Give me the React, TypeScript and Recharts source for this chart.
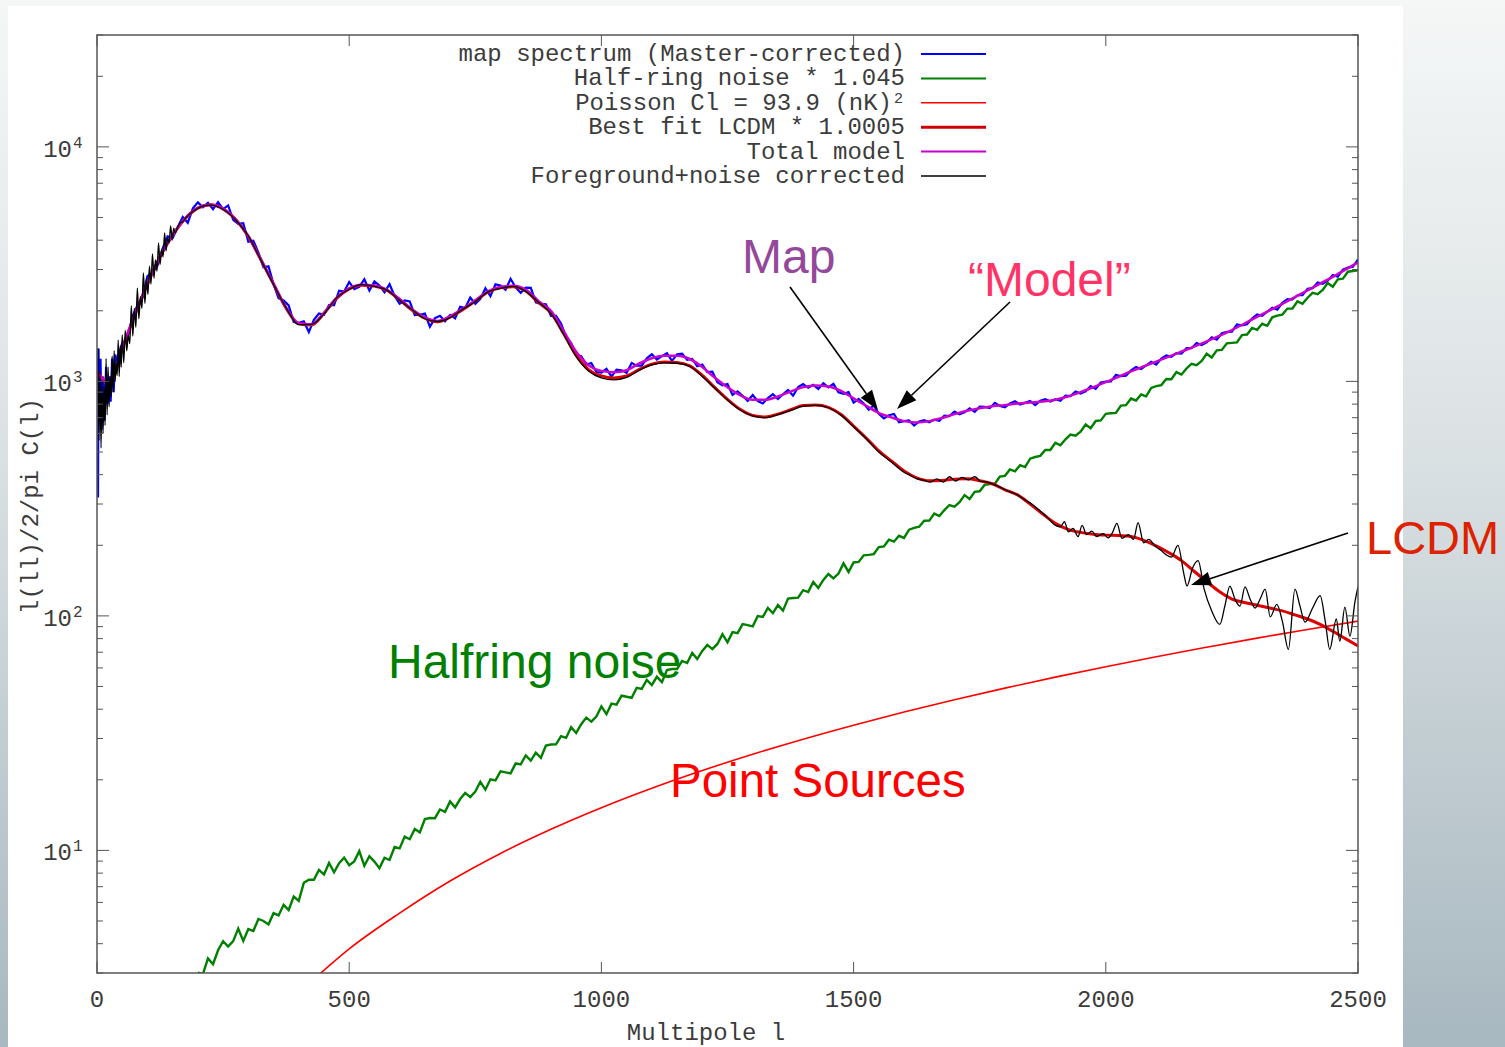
import { LineChart, Line, XAxis, YAxis } from "recharts";

// page + plot geometry (px)
const W = 1505;
const H = 1047;
const PL = 97;
const PR = 1358;
const PT = 35;
const PB = 973;

const MONO = "'Liberation Mono', 'DejaVu Sans Mono', monospace";
const SANS = "'Liberation Sans', Arial, sans-serif";
const INK = "#3c3c3c";

const L_TICKS = [0, 500, 1000, 1500, 2000, 2500];
const C_TICKS = [
    3, 4, 5, 6, 7, 8, 9, 10, 20, 30, 40, 50, 60, 70, 80, 90, 100, 200, 300, 400, 500, 600, 700, 800, 900,
    1000, 2000, 3000, 4000, 5000, 6000, 7000, 8000, 9000, 10000, 20000, 30000,
];

// map spectrum (Master-corrected), lowest multipoles
const MAP_LOW: [number, number][] = [
    [2, 320], [3, 1380], [5, 700], [7, 1250], [9, 620], [12, 1050], [15, 680], [18, 1150],
    [21, 800], [24, 1050], [27, 820], [30, 1250], [33, 900], [36, 1300],
];
// map spectrum, l = 40, 50, ... 2500
const MAP_V = [
    1213, 1460, 1501, 1883, 2105, 2260, 2813, 2914, 3117, 3681, 4152, 4091, 4545, 5021, 4746, 5470,
    5798, 5522, 5774, 5426, 5816, 5429, 5628, 4889, 4693, 4729, 3943, 3975, 3536, 3068, 3095, 2595,
    2261, 2213, 2108, 1792, 1778, 1804, 1623, 1830, 1947, 1923, 2116, 2116, 2437, 2415, 2654, 2474,
    2529, 2724, 2442, 2667, 2565, 2396, 2597, 2315, 2145, 2213, 2194, 1919, 1924, 1946, 1712, 1861,
    1904, 1804, 1921, 1857, 2082, 2056, 2279, 2143, 2248, 2497, 2309, 2594, 2561, 2459, 2737, 2515,
    2386, 2513, 2504, 2172, 2141, 2134,
    1904, 1905, 1767, 1549, 1458, 1294, 1279, 1181, 1198, 1096, 1091, 1131, 1048, 1122, 1115, 1089,
    1199, 1167, 1168, 1254, 1305, 1240, 1282, 1318, 1224, 1306, 1313, 1236, 1246, 1161, 1180, 1095,
    1099, 991, 962, 974, 876, 907, 869, 825, 875, 824, 805, 849, 882, 841, 881, 919, 869, 945,
    975, 939, 967, 929, 982, 943, 976, 898, 885, 900, 812, 841, 804, 758, 790, 727, 695, 717,
    726, 669, 677, 681, 648, 675, 684, 670, 687, 679, 715, 711, 743, 724, 738, 768, 741, 780,
    778, 769, 810, 785, 776, 805, 823, 796, 810, 825, 792, 826, 839, 820, 839, 827, 869, 865,
    906, 887, 908, 954, 930, 988, 998, 999, 1066, 1053, 1058, 1114, 1153, 1130, 1170, 1211, 1179, 1251,
    1289, 1274, 1320, 1313, 1385, 1385, 1457, 1428, 1466, 1543, 1507, 1605, 1626, 1631, 1749, 1734,
    1752, 1852, 1930, 1903, 1981, 2063, 2024, 2161, 2241, 2235, 2330, 2334, 2483, 2499, 2643, 2609,
    2690, 2845, 2798, 2996, 3055, 3082, 3317,
];

// half-ring noise * 1.045, l = 200, 210, ... 2500
const NOISE_V = [
    3.01, 2.97, 3.46, 3.27, 3.75, 4.1, 3.89, 4.1, 4.64, 4.11, 4.62, 4.53, 5.1, 5.0, 4.83, 5.4, 5.28,
    5.86, 5.57, 6.36, 6.09, 7.27, 7.5, 7.5, 8.26, 7.89, 8.84, 8.06, 8.81, 9.31, 8.65, 8.98, 9.92,
    8.6, 9.44, 8.96, 8.4, 9.3, 9.1, 10.34, 10.2, 11.45, 11.16, 12.34, 11.94, 13.6, 13.74, 13.72,
    14.94, 14.6, 16.17, 15.26, 16.56, 17.58, 16.88, 17.82, 19.61, 18.15, 20.09, 19.89, 21.74, 21.5,
    21.31, 23.48, 23.27, 25.41, 24.15, 26.11, 24.82, 28.02, 28.28, 28.32, 30.69, 30.18, 33.5, 31.68,
    34.54, 36.82, 35.41, 37.22, 41.13, 38.1, 42.23, 41.85, 45.66, 45.2, 44.74, 49.34, 48.81, 53.34,
    50.73, 54.98, 52.17, 58.81, 59.39, 59.39, 64.27, 62.92, 69.51, 65.47, 70.9, 75.19, 72.17, 75.93,
    83.63, 77.14, 85.27, 84.38, 92.25, 91.3, 90.24, 99.91, 99, 108.15, 102.82, 111.18, 105.28,
    118.45, 119.18, 119.56, 128.75, 126.42, 139.65, 131.52, 142.41, 150.8, 144.53, 151.47, 167.48,
    153.9, 169, 169.9, 181.2, 182, 183.5, 196.5, 197.8, 211.2, 207.2, 219.6, 215, 233.1, 237.4,
    240.1, 254.5, 254.9, 273, 266.4, 282.7, 297, 292.6, 305.2, 327.4, 315.3, 338, 339.9, 362.5,
    365, 366, 393, 395.6, 421.3, 413.4, 439.2, 430.9, 468.3, 475.8, 481.2, 510, 509.8, 547, 533.9,
    566.4, 592.9, 586.3, 610.3, 654.8, 631.5, 678, 681.7, 727, 731, 734, 788, 792, 845, 829, 879,
    863, 938, 954, 964, 1023, 1022, 1096, 1070, 1135, 1189, 1173, 1223, 1312, 1264, 1357, 1362,
    1453, 1460, 1467, 1576, 1584, 1690, 1660, 1760, 1725, 1875, 1907, 1927, 2044, 2044, 2195, 2142,
    2274, 2383, 2353, 2452, 2628, 2532, 2725, 2744, 2936, 2957, 2977,
];

// Poisson Cl = 93.9 (nK)^2
const POISSON: [number, number][] = [
    [440, 2.95], [500, 3.8], [600, 5.4], [700, 7.4], [800, 9.7], [900, 12.3], [1000, 15.2],
    [1100, 18.4], [1200, 21.9], [1300, 25.7], [1400, 29.8], [1500, 34.2], [1600, 38.9], [1700, 43.9],
    [1800, 49.2], [1900, 54.8], [2000, 60.7], [2100, 67], [2200, 73.5], [2300, 80.4], [2400, 87.5],
    [2500, 95],
];

// best fit LCDM * 1.0005, l = 0, 25, ... 2500
const LCDM_V = [
    1100, 980, 1380, 1920, 2600, 3400, 4200, 4950, 5480, 5660, 5440, 4900, 4150, 3300, 2600, 2050,
    1760, 1740, 1950, 2260, 2480, 2570, 2550, 2440, 2230, 2010, 1860, 1795, 1880, 2020, 2200, 2400,
    2506, 2530, 2430, 2170, 1960, 1600, 1290, 1120, 1055, 1035, 1054, 1125, 1185, 1210, 1205, 1165,
    1060, 940, 838, 760, 715, 705, 725, 757, 790, 793, 775, 722, 645, 573, 505, 458, 415, 388, 377,
    378, 383, 384, 377, 366, 345, 328, 300, 272, 248, 234, 227, 223, 221, 220, 218, 210, 199, 186,
    172, 155, 140, 127, 118, 114, 111, 108, 105, 101, 97, 92, 86, 80, 74.5,
];

// total model, l = 0, 25, ... 2500
const TOTAL_V = [
    1100, 990, 1390, 1930, 2610, 3410, 4210, 4960, 5490, 5670, 5450, 4910, 4160, 3310, 2610, 2060,
    1770, 1750, 1960, 2270, 2490, 2580, 2565, 2455, 2245, 2025, 1875, 1810, 1900, 2040, 2220, 2420,
    2530, 2555, 2465, 2205, 2000, 1640, 1337, 1170, 1109, 1094, 1116, 1192, 1255, 1285, 1285, 1246,
    1152, 1036, 944, 874, 835, 834, 862, 905, 945, 960, 951, 910, 846, 787, 733, 702, 677, 668, 677,
    698, 725, 749, 768, 784, 792, 805, 813, 820, 835, 862, 900, 944, 993, 1046, 1103, 1158, 1215,
    1275, 1340, 1406, 1481, 1563, 1656, 1765, 1883, 2007, 2140, 2288, 2446, 2614, 2789, 2996, 3220,
];

// foreground+noise corrected
const CLEAN: [number, number][] = [
    [2, 1380], [4, 560], [6, 1100], [8, 520], [10, 1000], [12, 600], [14, 950], [16, 650], [18, 1250],
    [20, 720], [22, 1150], [24, 780], [26, 1050], [28, 860], [30, 1280], [32, 900], [34, 1350],
    [36, 1000], [38, 1200], [40, 1060], [42, 1500], [44, 1050], [46, 1420], [48, 1150], [50, 1580],
    [53, 1200], [56, 1650], [59, 1350], [62, 1580], [65, 1450], [68, 2100], [71, 1560], [74, 2050],
    [77, 1700], [80, 2500], [83, 1850], [86, 2300], [89, 2050], [92, 2900], [95, 2150], [98, 2750],
    [101, 2350], [104, 3100], [107, 2600], [110, 3500], [113, 2750], [116, 3300], [119, 2950],
    [122, 3900], [125, 3150], [128, 3650], [131, 3400], [134, 4300], [137, 3600], [140, 4100],
    [143, 3900], [146, 4600], [149, 4000], [152, 4500], [155, 4300], [160, 4550], [165, 4750],
    [170, 4800], [175, 4950], [180, 5080], [190, 5300], [200, 5470], [210, 5590], [225, 5650],
    [250, 5420], [275, 4880], [300, 4170], [325, 3290], [350, 2590], [375, 2060], [400, 1745],
    [425, 1750], [450, 1940], [475, 2270], [500, 2470], [525, 2585], [550, 2540], [575, 2450],
    [600, 2220], [625, 2020], [650, 1850], [675, 1800], [700, 1870], [725, 2030], [750, 2190],
    [775, 2410], [800, 2495], [825, 2540], [850, 2420], [875, 2180], [900, 1950], [925, 1590],
    [950, 1275], [975, 1105], [1000, 1035], [1025, 1015], [1050, 1040], [1075, 1115], [1100, 1175],
    [1125, 1200], [1150, 1195], [1175, 1160], [1200, 1050], [1225, 935], [1250, 832], [1275, 755],
    [1300, 712], [1325, 700], [1350, 722], [1375, 752], [1400, 784], [1425, 790], [1450, 772],
    [1475, 718], [1500, 640], [1525, 570], [1550, 500], [1575, 453], [1600, 410], [1612, 398],
    [1625, 385], [1640, 378], [1652, 372], [1665, 384], [1678, 372], [1690, 392], [1702, 376],
    [1715, 390], [1728, 380], [1740, 392], [1752, 375], [1765, 372], [1780, 362], [1795, 350],
    [1810, 338], [1825, 328], [1840, 312], [1855, 298], [1870, 280], [1885, 262], [1898, 245],
    [1910, 240], [1918, 252], [1926, 228], [1935, 236], [1945, 218], [1953, 243], [1962, 222],
    [1972, 230], [1982, 218], [1995, 224], [2005, 215], [2013, 226], [2022, 248], [2032, 214],
    [2045, 222], [2055, 212], [2064, 250], [2075, 205], [2085, 212], [2098, 198], [2110, 190],
    [2120, 182], [2130, 178], [2143, 200], [2155, 150], [2161, 134], [2172, 160], [2183, 172],
    [2195, 130], [2210, 105], [2226, 92], [2236, 110], [2246, 134], [2256, 118], [2266, 110],
    [2276, 133], [2286, 118], [2296, 108], [2306, 118], [2316, 130], [2326, 99], [2339, 112],
    [2350, 95], [2362, 72], [2375, 130], [2385, 110], [2395, 94], [2410, 108], [2425, 122],
    [2435, 95], [2444, 72], [2457, 97], [2464, 78], [2474, 109], [2484, 82], [2494, 115], [2500, 133],
];

const LEGEND = [
    { label: "map spectrum (Master-corrected)", sup: "", color: "#0000ff", width: 2 },
    { label: "Half-ring noise * 1.045", sup: "", color: "#008000", width: 2 },
    { label: "Poisson Cl = 93.9 (nK)", sup: "2", color: "#ff0000", width: 1.5 },
    { label: "Best fit LCDM * 1.0005", sup: "", color: "#cc0000", width: 3 },
    { label: "Total model", sup: "", color: "#cc00cc", width: 2 },
    { label: "Foreground+noise corrected", sup: "", color: "#000000", width: 1.5 },
];

const fromStep = (start: number, step: number, vals: number[]) =>
    vals.map((v, i) => ({ l: start + i * step, v }));
const fromPairs = (pairs: [number, number][]) => pairs.map(([l, v]) => ({ l, v }));

const mapData = [...fromPairs(MAP_LOW), ...fromStep(40, 10, MAP_V)];
const noiseData = fromStep(200, 10, NOISE_V);
const poissonData = fromPairs(POISSON);
const lcdmData = fromStep(0, 25, LCDM_V);
const totalData = fromStep(0, 25, TOTAL_V);
const cleanData = fromPairs(CLEAN);

function XTick(props: any) {
    const { x, payload } = props;
    return (
        <g>
            <line x1={x} x2={x} y1={PB} y2={PB - 11} stroke="#555" strokeWidth={1} />
            <line x1={x} x2={x} y1={PT} y2={PT + 11} stroke="#555" strokeWidth={1} />
            <text x={x} y={PB + 34} textAnchor="middle" fontFamily={MONO} fontSize={24} fill={INK}>
                {payload.value}
            </text>
        </g>
    );
}

function YTick(props: any) {
    const { y, payload } = props;
    const lg = Math.log10(payload.value);
    const exp = Math.round(lg);
    const major = Math.abs(lg - exp) < 1e-6;
    const len = major ? 12 : 6;
    return (
        <g>
            <line x1={PL} x2={PL + len} y1={y} y2={y} stroke="#555" strokeWidth={1} />
            <line x1={PR} x2={PR - len} y1={y} y2={y} stroke="#555" strokeWidth={1} />
            {major && (
                <text x={72} y={y + 10} textAnchor="end" fontFamily={MONO} fontSize={24} fill={INK}>
                    10
                </text>
            )}
            {major && (
                <text x={73} y={y + 1} fontFamily={MONO} fontSize={16} fill={INK}>
                    {exp}
                </text>
            )}
        </g>
    );
}

function Arrow({ x1, y1, x2, y2 }: { x1: number; y1: number; x2: number; y2: number }) {
    const a = Math.atan2(y2 - y1, x2 - x1);
    const hl = 20;
    const hw = 7;
    const bx = x2 - hl * Math.cos(a);
    const by = y2 - hl * Math.sin(a);
    const px = -Math.sin(a) * hw;
    const py = Math.cos(a) * hw;
    return (
        <g>
            <line x1={x1} y1={y1} x2={bx} y2={by} stroke="#000" strokeWidth={1.6} />
            <polygon points={`${x2},${y2} ${bx + px},${by + py} ${bx - px},${by - py}`} fill="#000" />
        </g>
    );
}

export default function App() {
    return (
        <div
            style={{
                position: "absolute",
                left: 0,
                top: 0,
                width: W,
                height: H,
                overflow: "hidden",
                background: "linear-gradient(to bottom, #f5f7f7 0%, #dde3e5 40%, #a8b8c0 100%)",
            }}
        >
            {/* white slide panel */}
            <div style={{ position: "absolute", left: 8, top: 6, width: 1395, height: H - 6, background: "#fff" }} />

            <div style={{ position: "absolute", left: 0, top: 0 }}>
                <LineChart width={W} height={H} margin={{ top: PT, right: W - PR, bottom: 44, left: 37 }}>
                    <XAxis
                        type="number"
                        dataKey="l"
                        domain={[0, 2500]}
                        ticks={L_TICKS}
                        interval={0}
                        axisLine={false}
                        tickLine={false}
                        tick={<XTick />}
                        height={30}
                        allowDataOverflow
                    />
                    <YAxis
                        type="number"
                        scale="log"
                        domain={[3, 30000]}
                        ticks={C_TICKS}
                        interval={0}
                        axisLine={false}
                        tickLine={false}
                        tick={<YTick />}
                        width={60}
                        allowDataOverflow
                    />
                    <Line data={mapData} dataKey="v" stroke="#0000ff" strokeWidth={2.2} dot={false} activeDot={false} isAnimationActive={false} />
                    <Line data={noiseData} dataKey="v" stroke="#008000" strokeWidth={2.4} dot={false} activeDot={false} isAnimationActive={false} />
                    <Line data={poissonData} dataKey="v" type="monotone" stroke="#ff0000" strokeWidth={1.6} dot={false} activeDot={false} isAnimationActive={false} />
                    <Line data={lcdmData} dataKey="v" type="monotone" stroke="#dd0000" strokeWidth={3} dot={false} activeDot={false} isAnimationActive={false} />
                    <Line data={totalData} dataKey="v" type="monotone" stroke="#cc00cc" strokeWidth={2.5} dot={false} activeDot={false} isAnimationActive={false} />
                    <Line data={cleanData} dataKey="v" type="monotone" stroke="#000000" strokeWidth={1.3} dot={false} activeDot={false} isAnimationActive={false} />
                </LineChart>
            </div>

            {/* frame, legend, labels and annotations */}
            <svg width={W} height={H} style={{ position: "absolute", left: 0, top: 0, pointerEvents: "none" }}>
                <rect x={PL} y={PT} width={PR - PL} height={PB - PT} fill="none" stroke="#555" strokeWidth={1.5} />

                {LEGEND.map((row, i) => {
                    const y = 54 + i * 24.4;
                    return (
                        <g key={row.label}>
                            <text
                                x={row.sup ? 892 : 905}
                                y={y + 7}
                                textAnchor="end"
                                fontFamily={MONO}
                                fontSize={24}
                                fill={INK}
                            >
                                {row.label}
                            </text>
                            {row.sup && (
                                <text x={894} y={y} fontFamily={MONO} fontSize={15} fill={INK}>
                                    {row.sup}
                                </text>
                            )}
                            <line x1={921} x2={986} y1={y} y2={y} stroke={row.color} strokeWidth={row.width} />
                        </g>
                    );
                })}

                <text x={706} y={1040} textAnchor="middle" fontFamily={MONO} fontSize={24} fill={INK}>
                    Multipole l
                </text>
                <text
                    x={0}
                    y={0}
                    transform="translate(38 506) rotate(-90)"
                    textAnchor="middle"
                    fontFamily={MONO}
                    fontSize={24}
                    fill={INK}
                >
                    l(ll)/2/pi C(l)
                </text>

                <text x={742} y={273} fontFamily={SANS} fontSize={48} fill="#93489a">Map</text>
                <text x={968} y={296} fontFamily={SANS} fontSize={48} fill="#ff3366">“Model”</text>
                <text x={1366} y={554} fontFamily={SANS} fontSize={47} fill="#dd2200">LCDM</text>
                <text x={388} y={678} fontFamily={SANS} fontSize={48} fill="#008000">Halfring noise</text>
                <text x={670} y={797} fontFamily={SANS} fontSize={47.5} fill="#ff0000">Point Sources</text>

                <Arrow x1={790} y1={287} x2={878} y2={410} />
                <Arrow x1={1010} y1={302} x2={897} y2={409} />
                <Arrow x1={1348} y1={533} x2={1191} y2={585} />
            </svg>
        </div>
    );
}
